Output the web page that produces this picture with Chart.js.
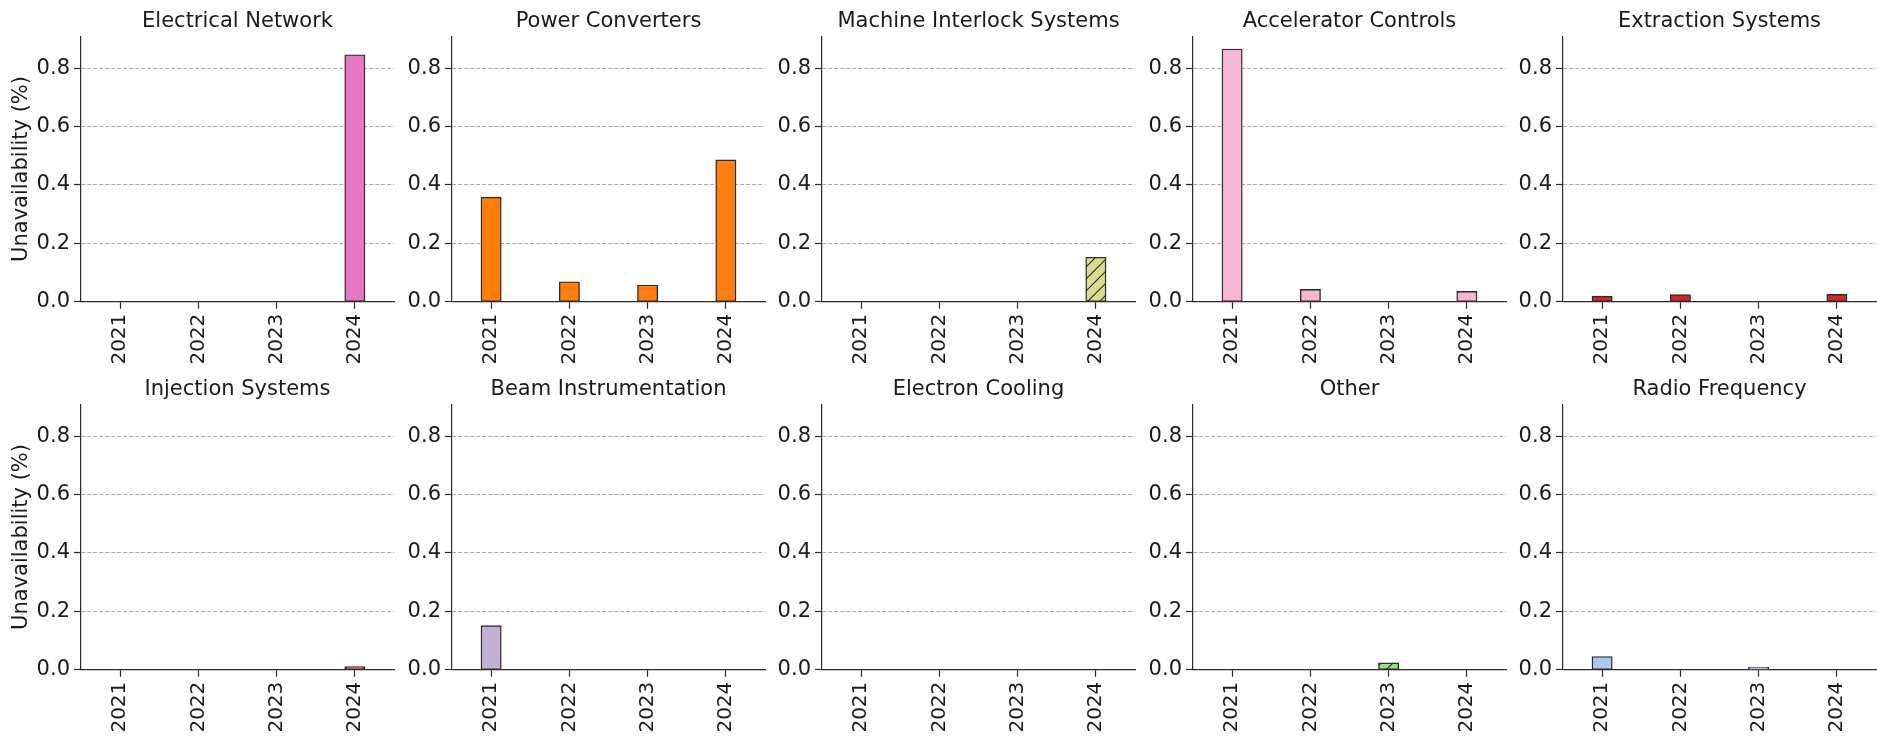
<!DOCTYPE html>
<html>
<head>
<meta charset="utf-8">
<script src="https://cdn.jsdelivr.net/npm/chart.js@4.4.0/dist/chart.umd.min.js"></script>
<style>
  html, body { margin: 0; padding: 0; background: #fff; overflow: hidden; }
  body { width: 1877px; height: 742px; position: relative; }
  canvas { position: absolute; }
</style>
</head>
<body>
<script>
// years on the x axis and the y tick values shared by every panel
const years = ['2021', '2022', '2023', '2024'];
const yTicks = [0, 0.2, 0.4, 0.6, 0.8];

// unavailability (%) per system and year
const electricalNetwork   = [0, 0, 0, 0.845];
const powerConverters     = [0.357, 0.067, 0.056, 0.485];
const machineInterlock    = [0, 0, 0, 0.151];
const acceleratorControls = [0.865, 0.041, 0, 0.034];
const extractionSystems   = [0.018, 0.023, 0, 0.024];
const injectionSystems    = [0, 0, 0, 0.009];
const beamInstrumentation = [0.150, 0, 0, 0];
const electronCooling     = [0, 0, 0, 0];
const otherSystems        = [0, 0, 0.022, 0];
const radioFrequency      = [0.044, 0, 0.007, 0];

const panels = [
  { title: 'Electrical Network',        data: electricalNetwork,   color: '#e377c2' },
  { title: 'Power Converters',          data: powerConverters,     color: '#ff7f0e' },
  { title: 'Machine Interlock Systems', data: machineInterlock,    color: '#dbdb8d', hatch: true },
  { title: 'Accelerator Controls',      data: acceleratorControls, color: '#f7b6d2' },
  { title: 'Extraction Systems',        data: extractionSystems,   color: '#d62728' },
  { title: 'Injection Systems',         data: injectionSystems,    color: '#d62728' },
  { title: 'Beam Instrumentation',      data: beamInstrumentation, color: '#c5b0d5' },
  { title: 'Electron Cooling',          data: electronCooling,     color: '#9edae5' },
  { title: 'Other',                     data: otherSystems,        color: '#98df8a', hatch: true },
  { title: 'Radio Frequency',           data: radioFrequency,      color: '#aec7e8' }
];

const W = 396, H = 368;
const AXIS_W = 81;
const PLOT_BOTTOM = 301.7;
const INK = '#1a1a1a';
const EDGE = '#2b2b2b';
const BAR_EDGE = 1.4;

Chart.defaults.font.family = "'DejaVu Sans', sans-serif";

// diagonal hatch fill for the hatched bars
function hatchPattern(bg, step) {
  const c = document.createElement('canvas');
  c.width = step; c.height = step;
  const g = c.getContext('2d');
  g.fillStyle = bg;
  g.fillRect(0, 0, step, step);
  g.strokeStyle = EDGE;
  g.lineWidth = 1.2;
  g.beginPath();
  for (let k = -1; k <= 1; k++) {
    g.moveTo(k * step, step);
    g.lineTo(k * step + step, 0);
  }
  g.stroke();
  return g.createPattern(c, 'repeat');
}

panels.forEach((p, i) => {
  const col = i % 5, row = Math.floor(i / 5);
  const cv = document.createElement('canvas');
  cv.width = W; cv.height = H;
  cv.style.left = Math.round(col * 370.6) + 'px';
  cv.style.top = (row * 368) + 'px';
  document.body.appendChild(cv);

  new Chart(cv, {
    type: 'bar',
    data: {
      labels: years,
      datasets: [{
        data: p.data,
        backgroundColor: p.hatch ? hatchPattern(p.color, 12) : p.color,
        borderColor: EDGE,
        borderWidth: BAR_EDGE,
        // centre the edge on the bar outline
        inflateAmount: BAR_EDGE / 2,
        borderSkipped: false,
        barPercentage: 0.25,
        categoryPercentage: 1
      }]
    },
    options: {
      responsive: false,
      animation: false,
      events: [],
      layout: { padding: { right: 2 } },
      plugins: {
        legend: { display: false },
        tooltip: { enabled: false },
        title: {
          display: true,
          text: p.title,
          fullSize: false,
          color: INK,
          font: { size: 21, weight: 'normal' },
          padding: { top: 9, bottom: 2 }
        }
      },
      scales: {
        x: {
          offset: true,
          grid: { offset: false, drawOnChartArea: false, tickLength: 7, tickColor: EDGE, tickWidth: 1.2 },
          border: { color: EDGE, width: 1.2 },
          ticks: { color: INK, font: { size: 20 }, minRotation: 90, maxRotation: 90, padding: 5, autoSkip: false },
          afterFit: s => { s.height = H - PLOT_BOTTOM; }
        },
        y: {
          min: 0,
          max: 0.91,
          afterBuildTicks: s => { s.ticks = yTicks.map(v => ({ value: v })); },
          ticks: { color: INK, font: { size: 21 }, padding: 4, callback: v => v.toFixed(1) },
          grid: {
            color: c => (c.tick && c.tick.value === 0) ? 'rgba(0,0,0,0)' : '#aaaaaa',
            lineWidth: 1,
            tickLength: 7,
            tickColor: EDGE,
            tickWidth: 1.2
          },
          border: { color: EDGE, width: 1.2, dash: [4, 2] },
          title: {
            display: col === 0,
            text: 'Unavailability (%)',
            color: INK,
            font: { size: 21 },
            padding: { top: 9, bottom: 0 }
          },
          afterFit: s => { s.width = AXIS_W; }
        }
      }
    }
  });
});
</script>
</body>
</html>
